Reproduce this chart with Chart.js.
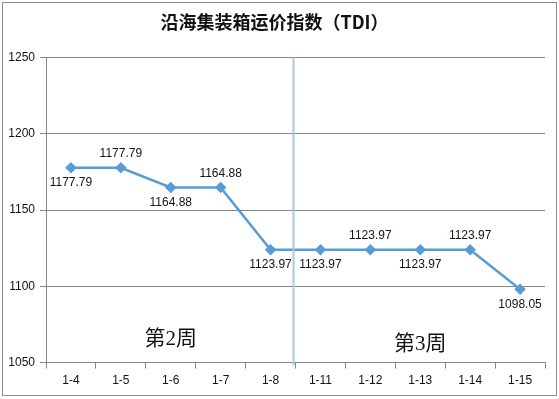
<!DOCTYPE html>
<html>
<head>
<meta charset="utf-8">
<script src="https://cdn.jsdelivr.net/npm/chart.js@4"></script>
<style>
  html, body { margin: 0; padding: 0; background: #fff; }
  #wrap { position: relative; width: 559px; height: 399px; }
</style>
</head>
<body>
<div id="wrap"><canvas id="myChart" width="559" height="399"></canvas></div>
<script>
var days = ['1-4', '1-5', '1-6', '1-7', '1-8', '1-11', '1-12', '1-13', '1-14', '1-15'];
var tdi = [1177.79, 1177.79, 1164.88, 1164.88, 1123.97, 1123.97, 1123.97, 1123.97, 1123.97, 1098.05];
// label above (true) or below (false) each point
var labelUp = [false, true, false, true, false, false, true, false, true, false];
var weeks = ['第2周', '第3周'];
var weekY = [1065, 1062];
var weekSplit = 5; // first index of the second week

var extras = {
	id : 'extras',
	afterDraw : function(chart) {
		var c = chart.ctx;
		var xs = chart.scales.x, ys = chart.scales.y;
		var area = chart.chartArea;
		c.save();

		// week divider
		var xDiv = (xs.getPixelForValue(weekSplit - 1) + xs.getPixelForValue(weekSplit)) / 2 - 2;
		c.strokeStyle = '#a9c8e8';
		c.lineWidth = 2;
		c.beginPath();
		c.moveTo(xDiv, area.top);
		c.lineTo(xDiv, area.bottom + 3);
		c.stroke();

		// week captions
		c.fillStyle = '#111';
		c.font = '21px "Liberation Serif", "Noto Sans CJK SC", serif';
		c.textAlign = 'center';
		c.textBaseline = 'middle';
		var w1 = (xs.getPixelForValue(0) + xs.getPixelForValue(weekSplit - 1)) / 2;
		var w2 = (xs.getPixelForValue(weekSplit) + xs.getPixelForValue(days.length - 1)) / 2;
		c.fillText(weeks[0], w1, ys.getPixelForValue(weekY[0]));
		c.fillText(weeks[1], w2, ys.getPixelForValue(weekY[1]));

		// data labels
		c.font = '12px "Liberation Sans", sans-serif';
		c.fillStyle = '#1a1010';
		for (var i = 0; i < tdi.length; i++) {
			var px = xs.getPixelForValue(i);
			var py = ys.getPixelForValue(tdi[i]);
			c.fillText(tdi[i].toFixed(2), px, labelUp[i] ? py - 14 : py + 15);
		}

		// outer frame
		c.strokeStyle = '#8c8c8c';
		c.lineWidth = 1;
		c.strokeRect(2.5, 2.5, chart.width - 5, chart.height - 6);
		c.restore();
	}
};

new Chart(document.getElementById('myChart'), {
	type : 'line',
	data : {
		labels : days,
		datasets : [{
			data : tdi,
			borderColor : '#5b9bd5',
			backgroundColor : '#5b9bd5',
			borderWidth : 2.5,
			pointStyle : 'rectRot',
			pointRadius : 4,
			pointHoverRadius : 4,
			tension : 0,
			fill : false
		}]
	},
	options : {
		responsive : false,
		animation : false,
		events : [],
		layout : { padding : { top : 8, right : 14, bottom : 6, left : 4 } },
		plugins : {
			legend : { display : false },
			tooltip : { enabled : false },
			title : {
				display : true,
				text : '沿海集装箱运价指数（TDI）',
				color : '#111',
				font : { family : '"Noto Sans CJK SC", sans-serif', size : 18, weight : 'bold' },
				padding : { top : 3, bottom : 25 }
			}
		},
		scales : {
			x : {
				offset : true,
				grid : { offset : true, drawOnChartArea : false, color : '#868686', tickLength : 6 },
				border : { color : '#868686' },
				ticks : { color : '#111', font : { family : '"Liberation Sans", sans-serif', size : 12 }, padding : 5, maxRotation : 0 }
			},
			y : {
				min : 1050,
				max : 1250,
				ticks : {
					stepSize : 50,
					color : '#111',
					font : { family : '"Liberation Sans", sans-serif', size : 12 },
					padding : 5,
					callback : function(v) { return String(v); }
				},
				grid : { color : '#868686', tickLength : 6 },
				border : { color : '#868686' },
				afterFit : function(s) { s.width = 42; }
			}
		}
	},
	plugins : [extras]
});
</script>
</body>
</html>
